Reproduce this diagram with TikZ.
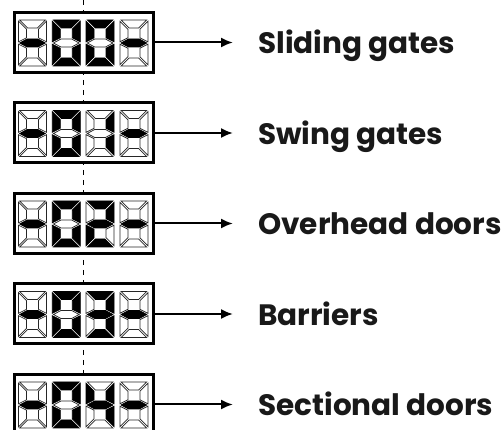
\documentclass[tikz,border=0pt]{standalone}
\usepackage{fontspec}
\newfontfamily\labfont{Poppins}
\usetikzlibrary{arrows.meta}
\tikzset{
  segoff/.style={fill=white,draw=black!85,line width=0.75pt,line join=miter},
  segon/.style={fill=black,draw=black,line width=0.75pt,line join=miter},
  s0/.style={segoff}, s1/.style={segon},
  dispbox/.style={draw=black,line width=3pt,fill=white,minimum width=139pt,minimum height=60pt,inner sep=0pt},
  lab/.style={font=\labfont\bfseries\fontsize{29.5}{34}\selectfont,text=black!90,inner sep=0pt,anchor=base west},
  arr/.style={line width=2pt,-{Latex[length=12pt,width=10pt]}},
  guide/.style={line width=1.2pt,dash pattern=on 5.5pt off 4.5pt}
}
% digit: x, y, a b c d e f g
\newcommand\sdigit[9]{%
\begin{scope}[shift={(#1,#2)}]
\path[s#3] (1.2,0)--(26.8,0)--(18.8,8)--(9.2,8)--cycle;
\path[s#4] (28,1.2)--(20,9.2)--(20,17.8)--(28,21.8)--cycle;
\path[s#5] (28,24.2)--(20,28.2)--(20,36.8)--(28,44.8)--cycle;
\path[s#6] (1.2,46)--(9.2,38)--(18.8,38)--(26.8,46)--cycle;
\path[s#7] (0,24.2)--(8,28.2)--(8,36.8)--(0,44.8)--cycle;
\path[s#8] (0,1.2)--(8,9.2)--(8,17.8)--(0,21.8)--cycle;
\path[s#9] (1.2,23)--(8.6,19)--(19.4,19)--(26.8,23)--(19.4,27)--(8.6,27)--cycle;
\end{scope}}
\begin{document}
\begin{tikzpicture}[x=1pt,y=-1pt]
\useasboundingbox (0,0) rectangle (504,430);
\fill[white] (0,0) rectangle (504,430);
\coordinate (gtop) at (83.5,0);
\coordinate (gbot) at (83.5,440);
\draw[guide] (gtop) -- (gbot);
% rows
\foreach \i/\lbl in {0/Sliding gates,1/Swing gates,2/Overhead doors,3/Barriers,4/Sectional doors}{
  \pgfmathsetmacro\yt{11+90.5*\i}
  \pgfmathsetmacro\yc{\yt+31.5}
  \node[dispbox] (b\i) at (84,\yc) {};
  \node[lab] (l\i) at (258,\yc+11.5) {\lbl};
  \coordinate (t\i) at (233,\yc);
  \draw[arr] (b\i.east) -- (t\i);
  \sdigit{18.5}{\yt+9}0000001
  \sdigit{52.3}{\yt+9}1111110
  \sdigit{119.9}{\yt+9}0000001
}
% third digits
\sdigit{86.1}{20}1111110
\sdigit{86.1}{110.5}0110000
\sdigit{86.1}{201}1101101
\sdigit{86.1}{291.5}1111001
\sdigit{86.1}{382}0110011
\end{tikzpicture}
\end{document}
